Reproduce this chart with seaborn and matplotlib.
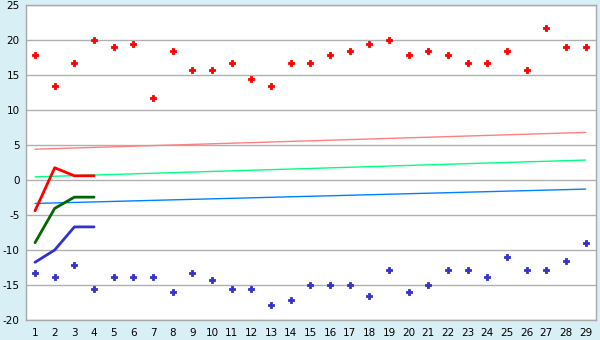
import matplotlib
matplotlib.use("Agg")
import matplotlib.pyplot as plt
import seaborn as sns
import pandas as pd

days = list(range(1, 30))
high = [17.8, 13.4, 16.7, 20.0, 19.0, 19.4, 11.7, 18.4, 15.7, 15.7,
        16.7, 14.4, 13.4, 16.7, 16.7, 17.8, 18.4, 19.4, 20.0, 17.8,
        18.4, 17.8, 16.7, 16.7, 18.4, 15.7, 21.7, 19.0, 19.0]
low = [-13.3, -13.9, -12.2, -15.6, -13.9, -13.9, -13.9, -16.0, -13.3, -14.3,
       -15.6, -15.6, -17.8, -17.2, -15.0, -15.0, -15.0, -16.6, -12.8, -16.0,
       -15.0, -12.8, -12.8, -13.9, -11.0, -12.8, -12.8, -11.6, -9.0]

short_x = [1, 2, 3, 4]
short_red = [-4.4, 1.75, 0.6, 0.6]
short_green = [-8.95, -4.05, -2.45, -2.45]
short_blue = [-11.75, -10.0, -6.7, -6.7]

trend_x = [1, 29]
trend_pink = [4.4, 6.8]
trend_green = [0.45, 2.85]
trend_blue = [-3.35, -1.3]

y_ticks = [-20, -15, -10, -5, 0, 5, 10, 15, 20, 25]

sns.set_style("white")
plt.rcParams["axes.unicode_minus"] = False
fig = plt.figure(figsize=(6.0, 3.4), dpi=100)
fig.patch.set_facecolor("#D9EFF6")
ax = fig.add_axes([26/600, 1 - 320/340, (595.5-26)/600, (320-5)/340])
ax.set_facecolor("white")

pts = pd.DataFrame({"x": days, "high": high, "low": low})
sns.lineplot(x=trend_x, y=trend_pink, ax=ax, color="#FF8080", linewidth=1.0)
sns.lineplot(x=trend_x, y=trend_green, ax=ax, color="#00FF80", linewidth=1.0)
sns.lineplot(x=trend_x, y=trend_blue, ax=ax, color="#0080FF", linewidth=1.0)

sns.lineplot(x=short_x, y=short_red, ax=ax, color="#FF0000", linewidth=2.0)
sns.lineplot(x=short_x, y=short_green, ax=ax, color="#006600", linewidth=2.0)
sns.lineplot(x=short_x, y=short_blue, ax=ax, color="#3333CC", linewidth=2.0)

sns.scatterplot(data=pts, x="x", y="high", ax=ax, color="#FF0000", marker="P",
                s=22, edgecolor="#FF0000", linewidth=0.6, zorder=5)
sns.scatterplot(data=pts, x="x", y="low", ax=ax, color="#3333CC", marker="P",
                s=22, edgecolor="#3333CC", linewidth=0.6, zorder=5)

ax.set_xlim(0.54, 29.5)
ax.set_ylim(-20, 25)
ax.set_xticks(days)
ax.set_yticks(y_ticks)
ax.yaxis.grid(True, color="#B0B0B0", linewidth=1.0)
ax.set_axisbelow(True)
ax.set_xlabel("")
ax.set_ylabel("")
for s in ax.spines.values():
    s.set_color("#A8A8A8")
    s.set_linewidth(1.0)
ax.tick_params(axis="both", labelsize=7.5, colors="black", direction="out")
ax.tick_params(axis="x", length=4, width=1, pad=2)
ax.tick_params(axis="y", length=3, width=1, pad=1.5)
fig.savefig("out.png", dpi=100, facecolor=fig.get_facecolor())
